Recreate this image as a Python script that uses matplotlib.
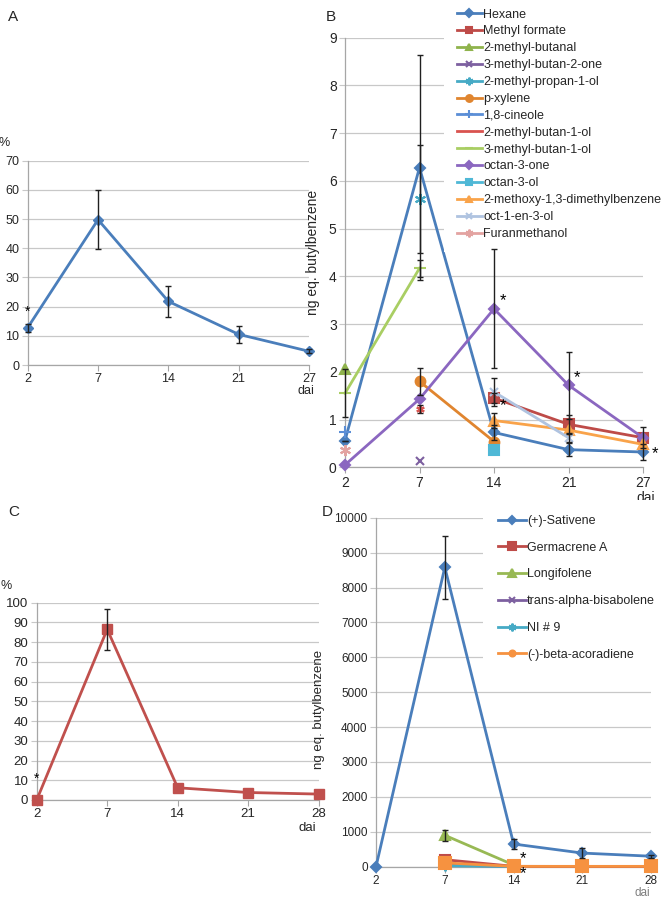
import numpy as np
import matplotlib.pyplot as plt

plt.rcParams['font.family'] = ['Liberation Sans', 'DejaVu Sans']

W, H = 661, 900
nan = np.nan

# ---------------- data ----------------
days_a = ['2', '7', '14', '21', '27']
days_c = ['2', '7', '14', '21', '28']

# A: % (blue)
pct_a = [12.8, 49.8, 21.8, 10.5, 4.7]
pct_a_err = [1.4, 10.2, 5.3, 3.0, 0.7]

# C: % (red)
pct_c = [0.0, 86.5, 6.2, 3.8, 3.0]
pct_c_err = [0.0, 10.3, 0.0, 0.0, 0.0]

# B: volatiles, ng eq. butylbenzene
hexane = [0.56, 6.28, 0.73, 0.37, 0.32]
hexane_err = [0.0, 2.35, 0.15, 0.14, 0.16]
methyl_formate = [nan, nan, 1.45, 0.90, 0.62]
methyl_formate_err = [nan, nan, 0.10, 0.20, 0.22]
methyl_butanal = [2.05, nan, nan, nan, nan]
methyl_butan2one = [nan, 0.14, nan, nan, nan]
methyl_propanol = [nan, 5.62, nan, nan, nan]
methyl_propanol_err = [nan, 1.13, nan, nan, nan]
p_xylene = [nan, 1.80, 0.54, nan, nan]
p_xylene_err = [nan, 0.28, nan, nan, nan]
cineole = [0.73, nan, nan, nan, nan]
methyl_butan1ol_2 = [nan, 1.22, nan, nan, nan]
methyl_butan1ol_2_err = [nan, 0.08, nan, nan, nan]
methyl_butan1ol_3 = [1.55, 4.17, nan, nan, nan]
methyl_butan1ol_3_err = [0.50, 0.18, nan, nan, nan]
octan3one = [0.05, 1.43, 3.32, 1.72, 0.62]
octan3one_err = [nan, nan, 1.25, 0.70, nan]
octan3ol = [nan, nan, 0.37, nan, nan]
methoxy_dmb = [nan, nan, 0.98, 0.78, 0.48]
methoxy_dmb_err = [nan, nan, 0.15, nan, nan]
octenol = [nan, nan, 1.58, 0.62, nan]
octenol_err = [nan, nan, 0.30, 0.10, nan]
furanmethanol = [0.37, nan, nan, nan, nan]

# D: sesquiterpenes, ng eq. butylbenzene
sativene = [0, 8580, 650, 390, 300]
sativene_err = [nan, 900, 150, 150, 40]
germacrene = [nan, 200, 10, 8, 8]
longifolene = [nan, 900, 50, nan, nan]
longifolene_err = [nan, 150, nan, nan, nan]
bisabolene = [nan, 50, 5, nan, nan]
ni9 = [nan, 30, 5, nan, nan]
acoradiene = [nan, 110, 10, 10, 10]

GRID = '#c8c8c8'
SPINE = '#a6a6a6'
TXT = '#262626'

fig = plt.figure(figsize=(W / 100, H / 100), dpi=100)


def px_axes(l, t, r, b):
    return fig.add_axes([l / W, 1 - b / H, (r - l) / W, (b - t) / H])


def style(ax, labels, ymax, ystep, fs):
    ax.set_xlim(0, len(labels) - 1)
    ax.set_ylim(0, ymax)
    ax.set_xticks(range(len(labels)))
    ax.set_xticklabels(labels)
    ax.set_yticks(np.arange(0, ymax + ystep / 2, ystep))
    ax.grid(axis='y', color=GRID, lw=0.9)
    ax.set_axisbelow(True)
    for s in ['top', 'right']:
        ax.spines[s].set_visible(False)
    for s in ['left', 'bottom']:
        ax.spines[s].set_color(SPINE)
        ax.spines[s].set_linewidth(0.9)
    ax.tick_params(axis='x', length=4, color=SPINE, labelsize=fs, labelcolor=TXT, pad=2)
    ax.tick_params(axis='y', length=4, color=GRID, labelsize=fs, labelcolor=TXT, pad=2)
    for lab in ax.get_xticklabels() + ax.get_yticklabels():
        lab.set_clip_on(False)


def errs(ax, x, y, e, z=4):
    ax.errorbar(x, y, yerr=e, fmt='none', ecolor='#202020', elinewidth=1.0,
                capsize=2, capthick=1.0, zorder=z, clip_on=False)


x5 = np.arange(5)

# ---------------- A ----------------
axA = px_axes(27.7, 160.7, 309, 365)
style(axA, days_a, 70, 10, 9)
axA.plot(x5, pct_a, color='#4a7ebb', lw=2.0, marker='D', ms=5.5, zorder=3, clip_on=False)
errs(axA, x5, pct_a, pct_a_err)
axA.text(0, 18.3, '*', ha='center', va='center', fontsize=10)
fig.text(8 / W, 1 - 17 / H, 'A', fontsize=11, ha='left', va='center', color=TXT)
fig.text(4 / W, 1 - 143 / H, '%', fontsize=9, ha='center', va='center', color=TXT)
fig.text(306 / W, 1 - 391 / H, 'dai', fontsize=9, ha='center', va='center', color=TXT)

# ---------------- B ----------------
axB = px_axes(345, 37.7, 643, 467.3)
style(axB, days_a, 9, 1, 10)
axB.set_ylabel('ng eq. butylbenzene', fontsize=10, color=TXT, labelpad=6)

b_series = [
    ('Hexane', hexane, hexane_err, '#4a7ebb', 'D', 5.5),
    ('Methyl formate', methyl_formate, methyl_formate_err, '#be4b48', 's', 6.5),
    ('2-methyl-butanal', methyl_butanal, None, '#8fb34c', '^', 6.5),
    ('3-methyl-butan-2-one', methyl_butan2one, None, '#7d60a0', 'x', 6),
    ('2-methyl-propan-1-ol', methyl_propanol, methyl_propanol_err, '#46aac5', (6, 2, 0), 8),
    ('p-xylene', p_xylene, p_xylene_err, '#e0852f', 'o', 7),
    ('1,8-cineole', cineole, None, '#5b8ed6', '+', 8),
    ('2-methyl-butan-1-ol', methyl_butan1ol_2, methyl_butan1ol_2_err, '#d9534f', '', 0),
    ('3-methyl-butan-1-ol', methyl_butan1ol_3, methyl_butan1ol_3_err, '#a9ce63', '_', 9),
    ('octan-3-one', octan3one, octan3one_err, '#8b67c0', 'D', 5.5),
    ('octan-3-ol', octan3ol, None, '#4fb8d6', 's', 7),
    ('2-methoxy-1,3-dimethylbenzene', methoxy_dmb, methoxy_dmb_err, '#f9a34a', '^', 6.5),
    ('oct-1-en-3-ol', octenol, octenol_err, '#afc3e0', 'x', 6),
    ('Furanmethanol', furanmethanol, None, '#e3a3a1', (6, 2, 0), 8),
]
for name, vals, err, col, mk, ms in b_series:
    axB.plot(x5, vals, color=col, lw=2.0, marker=mk, ms=ms, mew=1.5,
             label=name, zorder=3, clip_on=False)
    if err is not None:
        errs(axB, x5, vals, err, z=6)
# isolated point of the marker-less series
axB.plot(x5, methyl_butan1ol_2, ls='none', marker=(6, 2, 0), ms=6, mew=1.5,
         color='#d9534f', zorder=3)

axB.text(2.08, 3.5, '*', ha='left', va='center', fontsize=12)
axB.text(2.08, 1.3, '*', ha='left', va='center', fontsize=12)
axB.text(3.07, 1.87, '*', ha='left', va='center', fontsize=12)
axB.text(4.12, 0.28, '*', ha='left', va='center', fontsize=12)

legB = axB.legend(loc='upper left', bbox_to_anchor=(444 / W, 1 + 4 / H),
                  bbox_transform=fig.transFigure,
                  fontsize=9, frameon=True, facecolor='white', edgecolor='none',
                  framealpha=1, fancybox=False, borderpad=1.0, borderaxespad=0,
                  handlelength=2.0, handletextpad=0.15, labelspacing=0.39,
                  markerscale=0.7)
legB.set_zorder(5)
for t in legB.get_texts():
    t.set_color(TXT)
fig.text(326 / W, 1 - 17 / H, 'B', fontsize=11, ha='left', va='center', color=TXT)
fig.text(646 / W, 1 - 498 / H, 'dai', fontsize=10, ha='center', va='center', color=TXT)

# ---------------- C ----------------
axC = px_axes(36.7, 602.7, 318.7, 800)
style(axC, days_c, 100, 10, 9.5)
axC.plot(x5, pct_c, color='#c0504d', lw=2.0, marker='s', ms=7.5, zorder=3, clip_on=False)
errs(axC, x5[1:2], pct_c[1:2], pct_c_err[1:2])
axC.text(0, 11, '*', ha='center', va='center', fontsize=10)
fig.text(8 / W, 1 - 512 / H, 'C', fontsize=11, ha='left', va='center', color=TXT)
fig.text(6 / W, 1 - 586 / H, '%', fontsize=9, ha='center', va='center', color=TXT)
fig.text(307 / W, 1 - 828 / H, 'dai', fontsize=9.5, ha='center', va='center', color=TXT)

# ---------------- D ----------------
axD = px_axes(376, 517.7, 651.3, 866.7)
style(axD, days_c, 10000, 1000, 8.5)
axD.set_ylabel('ng eq. butylbenzene', fontsize=9.5, color=TXT)
axD.yaxis.set_label_coords(-0.185, 0.45)

d_series = [
    ('(+)-Sativene', sativene, sativene_err, '#4a7ebb', 'D', 5.5),
    ('Germacrene A', germacrene, None, '#be4b48', 's', 7),
    ('Longifolene', longifolene, longifolene_err, '#98b954', '^', 6.5),
    ('trans-alpha-bisabolene', bisabolene, None, '#7d60a0', 'x', 6),
    ('NI # 9', ni9, None, '#46aac5', (6, 2, 0), 7),
    ('(-)-beta-acoradiene', acoradiene, None, '#f69240', 's', 8),
]
for name, vals, err, col, mk, ms in d_series:
    axD.plot(x5, vals, color=col, lw=2.0, marker=mk, ms=ms, mew=1.5,
             label=name, zorder=3, clip_on=False)
    if err is not None:
        errs(axD, x5, vals, err)
axD.text(2.14, 230, '*', ha='center', va='center', fontsize=12)
axD.text(2.14, -190, '*', ha='center', va='center', fontsize=12)

hD, lD = axD.get_legend_handles_labels()
hD[-1] = plt.Line2D([], [], color='#f69240', lw=2.0, marker='o', ms=6)
legD = fig.legend(hD, lD, loc='upper left', bbox_to_anchor=(483 / W, 1 - 500 / H),
                  fontsize=9, frameon=True, facecolor='white', edgecolor='none',
                  framealpha=1, fancybox=False, borderpad=1.2, borderaxespad=0,
                  handlelength=2.2, handletextpad=0.1, labelspacing=1.18,
                  markerscale=0.8)
for t in legD.get_texts():
    t.set_color(TXT)
fig.text(322 / W, 1 - 512 / H, 'D', fontsize=11, ha='left', va='center', color=TXT)
fig.text(642 / W, 1 - 893 / H, 'dai', fontsize=8.5, ha='center', va='center', color='#7f7f7f')

fig.savefig('out.png', dpi=100)
